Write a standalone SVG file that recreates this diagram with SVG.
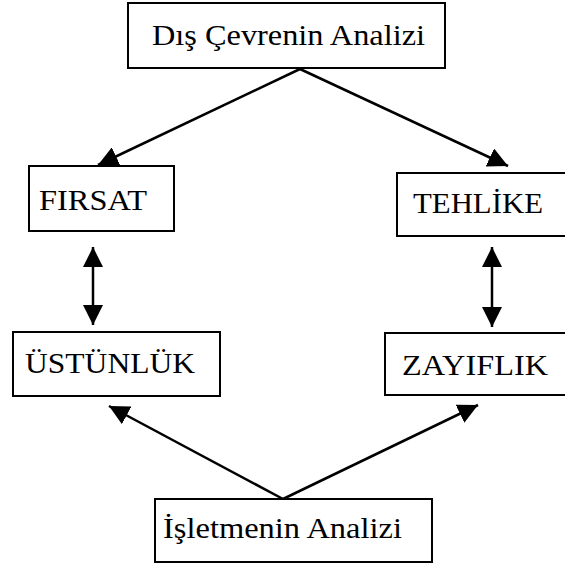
<svg xmlns="http://www.w3.org/2000/svg" width="565" height="565" viewBox="0 0 565 565">
<style>
.box{fill:#fff;stroke:#000;stroke-width:2}
.lbl{font-family:"Liberation Serif","Times New Roman",serif;font-size:30px;fill:#000}
.con{stroke:#000;stroke-width:2.5;fill:none}
</style>
<defs>
<marker id="ah" viewBox="0 0 20 20" refX="20" refY="10" markerWidth="20" markerHeight="20" markerUnits="userSpaceOnUse" orient="auto-start-reverse">
<path d="M0,0 L20,10 L0,20 z" fill="#000"/>
</marker>
</defs>
<rect width="565" height="565" fill="#fff"/>
<g id="connectors">
<line class="con" x1="300" y1="69" x2="98" y2="165" marker-end="url(#ah)"/>
<line class="con" x1="300" y1="69" x2="508" y2="166" marker-end="url(#ah)"/>
<line class="con" x1="93" y1="247" x2="93" y2="325" marker-start="url(#ah)" marker-end="url(#ah)"/>
<line class="con" x1="492" y1="247" x2="492" y2="327" marker-start="url(#ah)" marker-end="url(#ah)"/>
<line class="con" x1="283" y1="499" x2="109" y2="406" marker-end="url(#ah)"/>
<line class="con" x1="283" y1="499" x2="478" y2="405" marker-end="url(#ah)"/>
</g>
<g id="dis-cevre">
<rect class="box" x="128" y="3" width="317" height="65"/>
<text class="lbl" x="152" y="45" textLength="273" lengthAdjust="spacingAndGlyphs">Dış Çevrenin Analizi</text>
</g>
<g id="firsat">
<rect class="box" x="29" y="166" width="145" height="65"/>
<text class="lbl" x="39" y="210" textLength="108" lengthAdjust="spacingAndGlyphs">FIRSAT</text>
</g>
<g id="tehlike">
<rect class="box" x="397" y="173" width="175" height="63"/>
<text class="lbl" x="413" y="213" textLength="130" lengthAdjust="spacingAndGlyphs">TEHLİKE</text>
</g>
<g id="ustunluk">
<rect class="box" x="13" y="332" width="207" height="64"/>
<text class="lbl" x="25" y="373" textLength="170" lengthAdjust="spacingAndGlyphs">ÜSTÜNLÜK</text>
</g>
<g id="zayiflik">
<rect class="box" x="385" y="333" width="187" height="62"/>
<text class="lbl" x="402" y="375" textLength="146" lengthAdjust="spacingAndGlyphs">ZAYIFLIK</text>
</g>
<g id="isletme">
<rect class="box" x="155" y="499" width="277" height="63"/>
<text class="lbl" x="163" y="538" textLength="239" lengthAdjust="spacingAndGlyphs">İşletmenin Analizi</text>
</g>
</svg>
